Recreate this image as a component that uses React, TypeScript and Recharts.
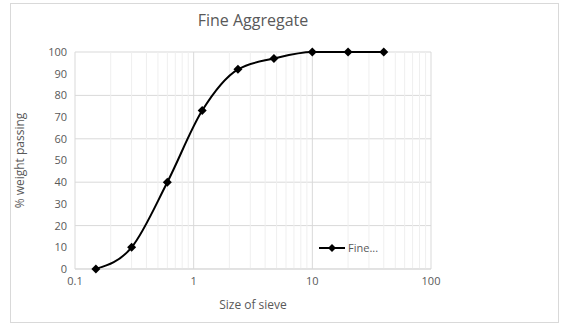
import {
  LineChart,
  Line,
  XAxis,
  YAxis,
  CartesianGrid,
  ReferenceLine,
} from "recharts";

const sieveSizes = [0.15, 0.3, 0.6, 1.18, 2.36, 4.75, 10, 20, 40];
const passing = [0, 10, 40, 73, 92, 97, 100, 100, 100];
const xTicks = [0.1, 1, 10, 100];
const yTicks = [0, 10, 20, 30, 40, 50, 60, 70, 80, 90, 100];
const minorX = [
  0.2, 0.3, 0.4, 0.5, 0.6, 0.7, 0.8, 0.9,
  2, 3, 4, 5, 6, 7, 8, 9,
  20, 30, 40, 50, 60, 70, 80, 90,
];

const data = sieveSizes.map((s, i) => ({ size: s, pass: passing[i] }));

const font = "'Open Sans', sans-serif";

const Diamond = (props: any) => {
  const { cx, cy } = props;
  if (cx == null || cy == null) return null;
  const r = 4.5;
  return (
    <polygon
      points={`${cx},${cy - r} ${cx + r},${cy} ${cx},${cy + r} ${cx - r},${cy}`}
      fill="#000"
    />
  );
};

export default function App() {
  return (
    <div style={{ position: "absolute", left: 0, top: 0, width: 561, height: 326, background: "#fff" }}>
      <div
        style={{
          position: "absolute",
          left: 10,
          top: 3,
          width: 549,
          height: 320,
          border: "1px solid #d9d9d9",
          boxSizing: "border-box",
        }}
      />
      <div
        style={{
          position: "absolute",
          left: 75,
          width: 356,
          top: 9,
          textAlign: "center",
          fontFamily: font,
          fontSize: 16,
          color: "#595959",
        }}
      >
        Fine Aggregate
      </div>
      <div style={{ position: "absolute", left: 0, top: 0 }}>
        <LineChart
          width={561}
          height={326}
          data={data}
          margin={{ top: 52, right: 130, bottom: 37, left: 15 }}
        >
          <CartesianGrid vertical={false} stroke="#d9d9d9" />
          {minorX.map((v) => (
            <ReferenceLine key={v} x={v} stroke="#efefef" ifOverflow="hidden" />
          ))}
          {xTicks.map((v) => (
            <ReferenceLine key={"m" + v} x={v} stroke="#d9d9d9" />
          ))}
          <XAxis
            dataKey="size"
            type="number"
            scale="log"
            domain={[0.1, 100]}
            ticks={xTicks}
            allowDataOverflow
            tickLine={false}
            axisLine={{ stroke: "#d9d9d9" }}
            tick={{ fill: "#595959", fontSize: 11, fontFamily: font }}
            tickFormatter={(v) => String(v)}
            height={20}
            label={{
              value: "Size of sieve",
              position: "insideBottom",
              offset: -20,
              style: { fill: "#595959", fontSize: 12, fontFamily: font },
            }}
          />
          <YAxis
            type="number"
            domain={[0, 100]}
            ticks={yTicks}
            tickLine={false}
            axisLine={false}
            width={60}
            tick={{ fill: "#595959", fontSize: 11, fontFamily: font }}
            label={{
              value: "% weight passing",
              angle: -90,
              position: "insideLeft",
              offset: 5,
              style: { textAnchor: "middle", fill: "#595959", fontSize: 12, fontFamily: font },
            }}
          />
          <Line
            dataKey="pass"
            type="monotone"
            stroke="#000"
            strokeWidth={2}
            dot={<Diamond />}
            activeDot={false}
            isAnimationActive={false}
          />
        </LineChart>
      </div>
      <div
        style={{
          position: "absolute",
          left: 319,
          top: 240,
          display: "flex",
          alignItems: "center",
          fontFamily: font,
          fontSize: 11,
          color: "#595959",
        }}
      >
        <svg width={28} height={10}>
          <line x1={0} y1={5} x2={26} y2={5} stroke="#000" strokeWidth={2} />
          <polygon points="13,1 17,5 13,9 9,5" fill="#000" />
        </svg>
        <span style={{ marginLeft: 1 }}>Fine...</span>
      </div>
    </div>
  );
}
